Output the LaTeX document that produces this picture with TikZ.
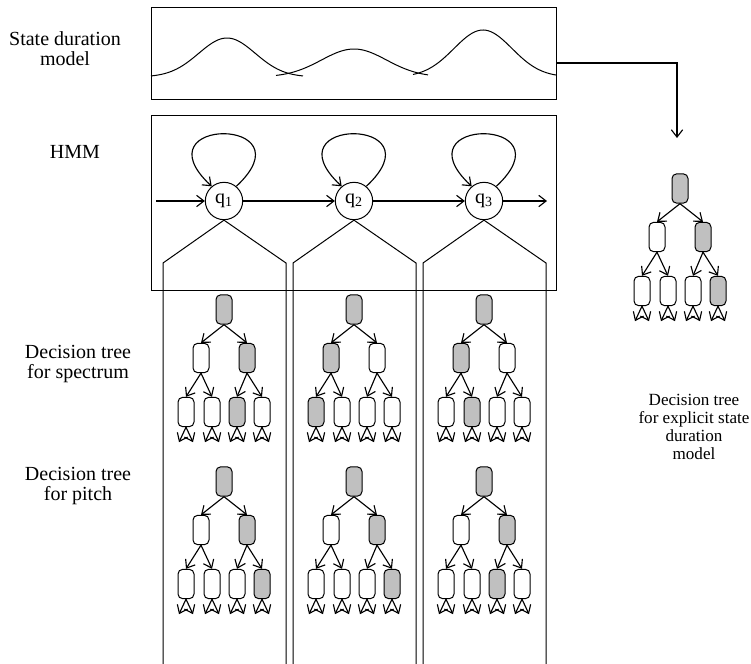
\documentclass[tikz,border=0pt]{standalone}
\usepackage{fontspec}
\setmainfont{Liberation Serif}
\usetikzlibrary{arrows.meta}

\definecolor{g}{HTML}{C0C0C0}
\definecolor{w}{HTML}{FFFFFF}

\tikzset{
  px/.style={x=0.75pt,y=-0.75pt},
  frame/.style={draw,line width=0.75pt},
  state/.style={draw,circle,minimum size=28pt,inner sep=0pt,line width=0.75pt,font=\fontsize{15}{15}\selectfont},
  tnode/.style={draw,rounded corners=3.5pt,minimum width=12pt,minimum height=22pt,inner sep=0pt,line width=0.75pt},
  arr/.style={-{Straight Barb[length=5.5pt,width=8.5pt]},line width=0.85pt},
  lbl/.style={align=center,font=\fontsize{15}{15}\selectfont}
}

% decision tree: prefix, x and y of the root, fills of the 7 nodes
\newcommand{\dtree}[4]{%
  \foreach \fil [count=\i] in {#4}{
    \pgfmathsetmacro\dx{{0,-23,23,-38,-12,13,38}[\i-1]}
    \pgfmathsetmacro\dy{{0,48.5,48.5,102.5,102.5,102.5,102.5}[\i-1]}
    \node[tnode,fill=\fil] (#1-\i) at (#2+\dx,#3+\dy) {};
  }
  \draw[arr] (#1-1.south) -- (#1-2.north);
  \draw[arr] (#1-1.south) -- (#1-3.north);
  \draw[arr] (#1-2.south) -- (#1-4.north);
  \draw[arr] (#1-2.south) -- (#1-5.north);
  \draw[arr] (#1-3.south) -- (#1-6.north);
  \draw[arr] (#1-3.south) -- (#1-7.north);
  \foreach \j in {4,...,7}{
    \path (#1-\j.south) ++(-7,15) coordinate (#1-\j-l) ++(14,0) coordinate (#1-\j-r);
    \draw[arr] (#1-\j.south) -- (#1-\j-l);
    \draw[arr] (#1-\j.south) -- (#1-\j-r);
  }
}

\begin{document}
\begin{tikzpicture}[px]
\useasboundingbox (0,0) rectangle (751,664);

% row labels
\node[lbl] (durlbl) at (65,49) {State duration\\model};
\node[lbl] (hmmlbl) at (75,152) {HMM};
\node[lbl] (speclbl) at (78,364) {Decision tree\\for spectrum};
\node[lbl] (pitchlbl) at (78,486) {Decision tree\\for pitch};
\node[lbl,font=\fontsize{12.8}{13.6}\selectfont] (explbl) at (694,427) {Decision tree\\for explicit state\\duration\\model};

% duration densities
\node[frame,minimum width=303.75pt,minimum height=69pt,inner sep=0pt] (durbox) at (353.5,53) {};
\draw[line width=0.75pt] plot[domain=151:303,samples=60] (\x,{77-39*exp(-((\x-227)/40)*((\x-227)/40))});
\draw[line width=0.75pt] plot[domain=276:428,samples=60] (\x,{77-28*exp(-((\x-354)/46)*((\x-354)/46))});
\draw[line width=0.75pt] plot[domain=413:556,samples=60] (\x,{77-47*exp(-((\x-483)/41)*((\x-483)/41))});

\coordinate (durout) at (556,63);
\coordinate (rtin) at (677,138);
\draw[arr] (durout) -| (rtin);

% HMM
\node[frame,minimum width=303.75pt,minimum height=131.25pt,inner sep=0pt] (hmmbox) at (353.5,202.5) {};
\foreach \i/\x in {1/224,2/354,3/484}
  \node[state,fill=white] (q\i) at (\x,201) {q\textsubscript{\i}};
\coordinate (hin) at (156,201);
\coordinate (hout) at (547,201);
\draw[arr] (hin) -- (q1);
\draw[arr] (q1) -- (q2);
\draw[arr] (q2) -- (q3);
\draw[arr] (q3) -- (hout);
\foreach \i in {1,2,3}
  \draw[arr] (q\i.50) .. controls +(75,-70) and +(-75,-70) .. (q\i.130);

% one column per state
\foreach \i/\l/\r in {1/163/286,2/293/416,3/423/546}
  \draw[frame] (\l,664) -- (\l,263) -- (q\i.south) -- (\r,263) -- (\r,664);

\dtree{s1}{224}{309.5}{g,w,g,w,w,g,w}
\dtree{s2}{354}{309.5}{g,g,w,g,w,w,w}
\dtree{s3}{484}{309.5}{g,g,w,w,g,w,w}
\dtree{p1}{224}{481.5}{g,w,g,w,w,w,g}
\dtree{p2}{354}{481.5}{g,w,g,w,w,w,g}
\dtree{p3}{484}{481.5}{g,w,g,w,w,g,w}
\dtree{d}{680}{188.5}{g,w,g,w,w,w,g}
\end{tikzpicture}
\end{document}
